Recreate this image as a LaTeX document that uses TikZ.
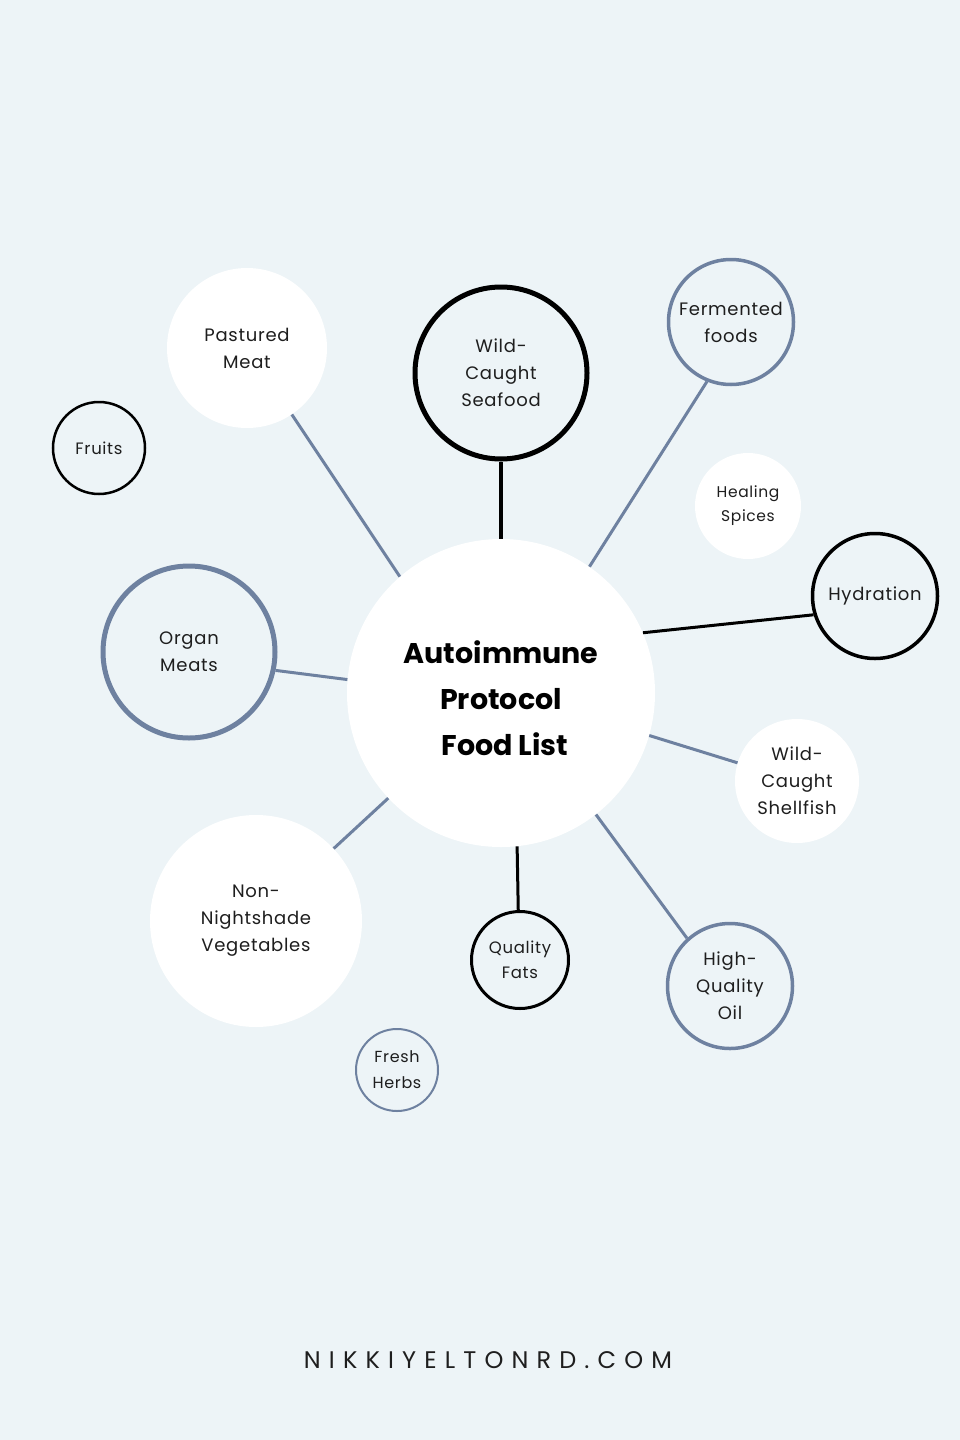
\documentclass[tikz,border=0pt]{standalone}
\usepackage{fontspec}
\setmainfont{Poppins}
\definecolor{bg}{HTML}{EDF4F7}
\definecolor{slate}{HTML}{6E81A0}
\definecolor{ink}{HTML}{1E1E1E}
\begin{document}
\begin{tikzpicture}[x=1pt,y=-1pt,
  lbl/.style={font=\fontsize{18}{27}\selectfont\addfontfeatures{LetterSpace=4}, align=center, text=ink},
  wnode/.style={circle, fill=white, inner sep=0pt, minimum size=#1, lbl},
  bnode/.style={circle, draw=black, inner sep=0pt, minimum size=#1, lbl},
  snode/.style={circle, draw=slate, inner sep=0pt, minimum size=#1, lbl},
  bline/.style={draw=black, line width=3.5pt},
  sline/.style={draw=slate, line width=3pt}]
\fill[bg] (0,0) rectangle (960,1440);
\useasboundingbox (0,0) rectangle (960,1440);

\node[wnode=308pt] (c) at (501,693) {};
\node[align=center, font=\fontsize{28.5}{46}\selectfont\bfseries, text=black] (title) at (501,698) {Autoimmune\\Protocol\\ \hspace*{8pt}Food List};

\node[bnode=172pt, line width=5pt] (sea) at (501,373) {Wild-\\Caught\\Seafood};
\node[wnode=160pt] (pm) at (247,348) {Pastured\\Meat};
\node[snode=125pt, line width=3.5pt] (fer) at (731,322) {Fermented\\foods};
\node[bnode=92pt, line width=2.5pt, font=\fontsize{16.5}{24}\selectfont\addfontfeatures{LetterSpace=4}] (fr) at (99,448) {Fruits};
\node[wnode=106pt, font=\fontsize{15.5}{24}\selectfont\addfontfeatures{LetterSpace=4}] (hs) at (748,506) {Healing\\Spices};
\node[bnode=125pt, line width=3.5pt] (hy) at (875,596) {Hydration};
\node[snode=172pt, line width=5pt] (om) at (189,652) {Organ\\Meats};
\node[wnode=124pt] (sh) at (797,781) {Wild-\\Caught\\Shellfish};
\node[wnode=212pt] (nn) at (256,921) {Non-\\Nightshade\\Vegetables};
\node[bnode=97pt, line width=3pt, font=\fontsize{16.5}{25}\selectfont\addfontfeatures{LetterSpace=4}] (qf) at (520,960) {Quality\\Fats};
\node[snode=125pt, line width=3.5pt] (oil) at (730,986) {High-\\Quality\\Oil};
\node[snode=82pt, line width=2pt, font=\fontsize{16}{26}\selectfont\addfontfeatures{LetterSpace=4}] (fh) at (397,1070) {Fresh\\Herbs};

\draw[bline] (sea.south) -- (c.north);
\draw[sline] (pm.-56) -- (c.131);
\draw[sline] (fer.-112) -- (c.55);
\draw[bline, line width=3pt] (hy.197) -- (c.23);
\draw[sline] (om.-12) -- (c.175);
\draw[sline] (sh.163) -- (c.-16);
\draw[sline] (nn.43) -- (c.223);
\draw[bline, line width=3pt] (qf.92) -- (c.-84);
\draw[sline] (oil.132) -- (c.-52);

\node[font=\fontsize{24}{26}\selectfont\addfontfeatures{LetterSpace=34}, text=ink] (url) at (488,1360) {NIKKIYELTONRD.COM};
\end{tikzpicture}
\end{document}
